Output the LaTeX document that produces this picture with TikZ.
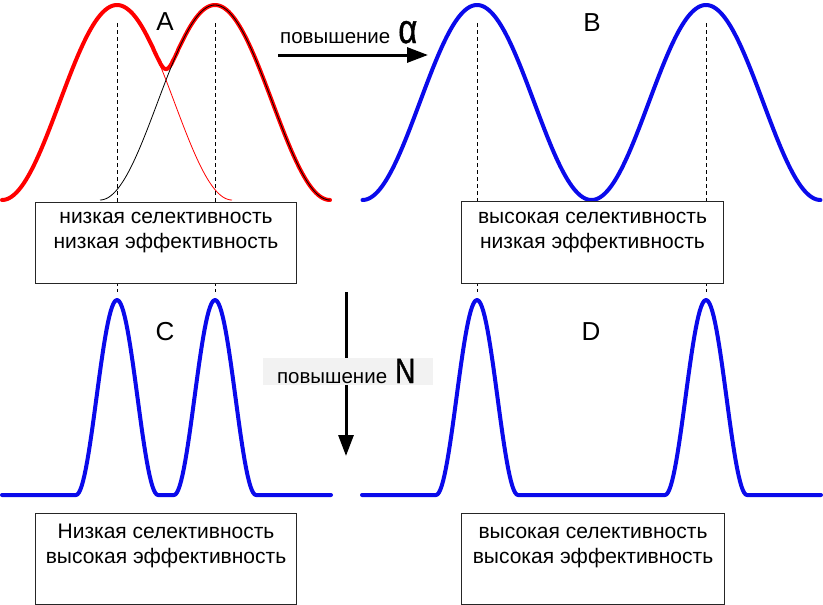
\documentclass[tikz,border=0pt]{standalone}
\usepackage{fontspec}
\usepackage{graphicx}
\setmainfont{Liberation Sans}
\newfontfamily\heavyfont[FakeBold=1.2]{Liberation Sans}
\usetikzlibrary{arrows.meta}
\definecolor{plotblue}{RGB}{10,10,235}
\definecolor{labelgray}{RGB}{242,242,242}
\begin{document}
\begin{tikzpicture}[x=1pt,y=-1pt,
  declare function={
    fa(\xx)=0.5*(1+cos((\xx-117)/115*180));
    fb(\xx)=0.5*(1+cos((\xx-215)/115*180));
    gg(\xx,\cc)=0.5*(1+cos((\xx-\cc)/41*180));
  },
  thickred/.style={draw=red, line width=4pt, line join=round, line cap=round},
  thickblue/.style={draw=plotblue, line width=4pt, line join=round, line cap=round},
  thinline/.style={line width=0.8pt},
  dashline/.style={draw=black, line width=0.8pt, dash pattern=on 4pt off 3pt},
  infobox/.style={draw=black!85, line width=1pt, fill=white, inner sep=0pt, anchor=north west},
  boxtext/.style={font=\fontsize{21}{25}\selectfont, align=center, inner sep=0pt, anchor=north},
  letter/.style={font=\fontsize{26}{30}\selectfont, inner sep=0pt},
  bigarrow/.style={draw=black, line width=3pt, -{Triangle[length=21pt,width=15pt]}},
  arrowlabel/.style={font=\fontsize{20.5}{24}\selectfont, inner sep=0pt},
]
\useasboundingbox (0,0) rectangle (823,605);

% ---------- panel A ----------
\draw[thickred]
  plot[domain=2:130,samples=70] (\x,{200-195*fa(\x)})
  -- plot[domain=130:205,samples=80] (\x,{200-195*pow(pow(fa(\x),8)+pow(fb(\x),8),0.125)})
  -- plot[domain=205:330,samples=70] (\x,{200-195*fb(\x)});
\draw[thinline, red] plot[domain=2:232,samples=120] (\x,{200-195*fa(\x)});
\draw[thinline, black] plot[domain=100:330,samples=120] (\x,{200-195*fb(\x)});

% ---------- panel B ----------
\draw[thickblue] plot[domain=362.5:820.5,samples=240] (\x,{200-195*0.5*(1+cos((\x-477)/114.5*180))});

% ---------- panel C ----------
\draw[thickblue] (2,495) -- (76,495)
  -- plot[domain=76:158,samples=60] (\x,{495-195*gg(\x,117)})
  -- (174,495)
  -- plot[domain=174:256,samples=60] (\x,{495-195*gg(\x,215)})
  -- (331,495);

% ---------- panel D ----------
\draw[thickblue] (362,495) -- (436,495)
  -- plot[domain=436:518,samples=60] (\x,{495-195*gg(\x,477)})
  -- (665,495)
  -- plot[domain=665:747,samples=60] (\x,{495-195*gg(\x,706)})
  -- (821,495);

% ---------- dashed guide lines ----------
\draw[dashline] (117,23) -- (117,292);
\draw[dashline] (215,23) -- (215,292);
\draw[dashline] (477,23) -- (477,292);
\draw[dashline] (706,23) -- (706,292);

% ---------- boxes ----------
\node[infobox, minimum width=261pt, minimum height=81pt] (bA) at (35,202) {};
\node[infobox, minimum width=262pt, minimum height=82pt] (bB) at (461,201) {};
\node[infobox, minimum width=261pt, minimum height=91pt] (bC) at (35,513) {};
\node[infobox, minimum width=263pt, minimum height=91pt] (bD) at (461,513) {};

\node[boxtext] (tA) at ([yshift=-4pt]bA.north) {\strut низкая селективность\\\strut низкая эффективность};
\node[boxtext] (tB) at ([yshift=-5pt]bB.north) {\strut высокая селективность\\\strut низкая эффективность};
\node[boxtext] (tC) at ([yshift=-7.5pt]bC.north) {\strut Низкая селективность\\\strut высокая эффективность};
\node[boxtext] (tD) at ([yshift=-7.5pt]bD.north) {\strut высокая селективность\\\strut высокая эффективность};

% ---------- letters ----------
\node[letter] (lA) at (165,22) {A};
\node[letter] (lB) at (592,23) {B};
\node[letter] (lC) at (165,332) {C};
\node[letter] (lD) at (591,332) {D};

% ---------- arrows ----------
\coordinate (h1) at (278,55);
\coordinate (h2) at (428,55);
\draw[bigarrow] (h1) -- (h2);
\node[arrowlabel, anchor=base west] (alpha) at (280,43)
  {повышение\hspace{8pt}\scalebox{0.8}[1]{\heavyfont\fontsize{41}{41}\selectfont α}};

\coordinate (v1) at (346,292);
\coordinate (v2) at (346,456);
\draw[bigarrow] (v1) -- (v2);
\node[arrowlabel, fill=labelgray, minimum width=170pt, minimum height=27pt,
      inner xsep=14pt, text width=142pt, align=left, text height=25pt, text depth=2pt]
  (nlab) at (348,371.5)
  {повышение\hspace{8pt}\scalebox{0.8}[1]{\heavyfont\fontsize{35}{35}\selectfont N}};
\end{tikzpicture}
\end{document}
